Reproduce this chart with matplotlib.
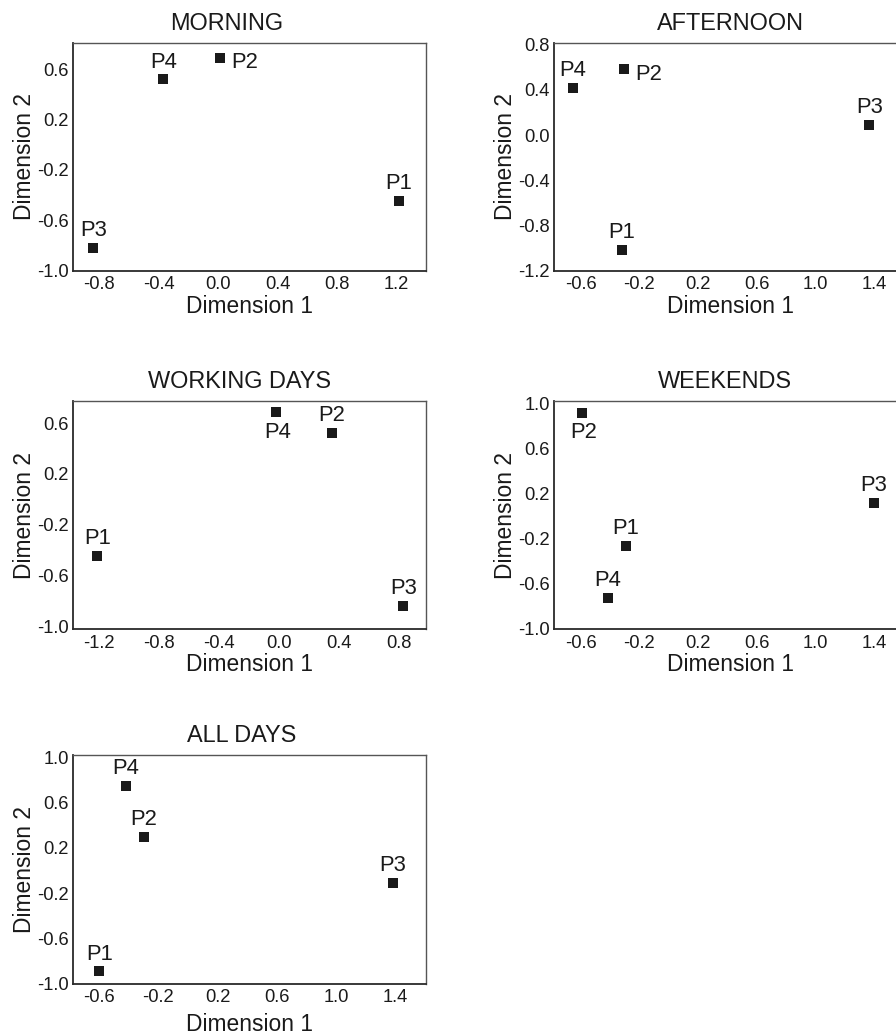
import matplotlib
matplotlib.use("Agg")
import matplotlib.pyplot as plt

plt.rcParams['font.family'] = ['Liberation Sans', 'DejaVu Sans']

# ---- data ----
titles = ["MORNING", "AFTERNOON", "WORKING DAYS", "WEEKENDS", "ALL DAYS"]
point_names = ["P1", "P2", "P3", "P4"]

morning_x = [1.216, 0.013, -0.838, -0.368]
morning_y = [-0.445, 0.69, -0.82, 0.518]

afternoon_x = [-0.321, -0.305, 1.363, -0.65]
afternoon_y = [-1.022, 0.584, 0.086, 0.415]

working_x = [-1.211, 0.353, 0.829, -0.02]
working_y = [-0.445, 0.521, -0.842, 0.689]

weekends_x = [-0.292, -0.589, 1.393, -0.412]
weekends_y = [-0.263, 0.917, 0.115, -0.728]

alldays_x = [-0.598, -0.297, 1.38, -0.42]
alldays_y = [-0.891, 0.297, -0.11, 0.749]

morning_xticks = [-0.8, -0.4, 0.0, 0.4, 0.8, 1.2]
morning_yticks = [-1.0, -0.6, -0.2, 0.2, 0.6]
afternoon_xticks = [-0.6, -0.2, 0.2, 0.6, 1.0, 1.4]
afternoon_yticks = [-1.2, -0.8, -0.4, 0.0, 0.4, 0.8]
working_xticks = [-1.2, -0.8, -0.4, 0.0, 0.4, 0.8]
working_yticks = [-1.0, -0.6, -0.2, 0.2, 0.6]
weekends_xticks = [-0.6, -0.2, 0.2, 0.6, 1.0, 1.4]
weekends_yticks = [-1.0, -0.6, -0.2, 0.2, 0.6, 1.0]
alldays_xticks = [-0.6, -0.2, 0.2, 0.6, 1.0, 1.4]
alldays_yticks = [-1.0, -0.6, -0.2, 0.2, 0.6, 1.0]

# ---- layout / style ----
W, H = 896, 1035
fig = plt.figure(figsize=(W / 100, H / 100), dpi=100)

def rect(left, top, right, bottom):
    return [left / W, 1 - bottom / H, (right - left) / W, (bottom - top) / H]

panels = [
    dict(title=titles[0], x=morning_x, y=morning_y, xt=morning_xticks, yt=morning_yticks,
         xlim=(-0.977, 1.395), ylim=(-1.0, 0.81), rect=rect(72.7, 42.7, 425.7, 270.7),
         tx=0.436, place=["above", "right", "above", "above"], xlp=1),
    dict(title=titles[1], x=afternoon_x, y=afternoon_y, xt=afternoon_xticks, yt=afternoon_yticks,
         xlim=(-0.78, 1.62), ylim=(-1.205, 0.82), rect=rect(554, 42.7, 907, 270.7),
         tx=0.501, place=["above", "right", "above", "above"], xlp=1),
    dict(title=titles[2], x=working_x, y=working_y, xt=working_xticks, yt=working_yticks,
         xlim=(-1.375, 0.978), ylim=(-1.026, 0.776), rect=rect(72.7, 401, 425.7, 629.3),
         tx=0.474, place=["above", "above", "above", "below"], xlp=1),
    dict(title=titles[3], x=weekends_x, y=weekends_y, xt=weekends_xticks, yt=weekends_yticks,
         xlim=(-0.78, 1.62), ylim=(-1.005, 1.02), rect=rect(554, 401, 907, 629.3),
         tx=0.484, place=["above", "below", "above", "above"], xlp=1),
    dict(title=titles[4], x=alldays_x, y=alldays_y, xt=alldays_xticks, yt=alldays_yticks,
         xlim=(-0.777, 1.602), ylim=(-1.0, 1.018), rect=rect(72.7, 755.3, 425.7, 983.7),
         tx=0.48, place=["above", "above", "above", "above"], xlp=5),
]

offsets = {"above": (0, 12.5), "below": (1, -14.5), "right": (17.8, -3.6)}
ink = "#1a1a1a"

for p in panels:
    ax = fig.add_axes(p["rect"])
    ax.plot(p["x"], p["y"], linestyle="none", marker="s", markersize=7.8,
            color=ink, markeredgewidth=0, clip_on=False)
    for name, xv, yv, pl in zip(point_names, p["x"], p["y"], p["place"]):
        ax.annotate(name, (xv, yv), xytext=offsets[pl], textcoords="offset points",
                    ha="center", va="center", fontsize=15.8, color=ink)
    ax.set_xlim(*p["xlim"])
    ax.set_ylim(*p["ylim"])
    ax.set_xticks(p["xt"])
    ax.set_yticks(p["yt"])
    ax.set_xticklabels([f"{v:.1f}" for v in p["xt"]])
    ax.set_yticklabels([f"{v:.1f}" for v in p["yt"]])
    ax.tick_params(length=0, labelsize=13.2, labelcolor=ink, pad=3)
    ax.tick_params(axis="x", pad=4)
    ax.set_xlabel("Dimension 1", fontsize=16.4, color=ink, labelpad=p["xlp"])
    ax.set_ylabel("Dimension 2", fontsize=16.4, color=ink, labelpad=1)
    ax.set_title(p["title"], fontsize=16.9, color=ink, pad=9.5, x=p["tx"])
    for s in ["left", "bottom"]:
        ax.spines[s].set_color("#2a2a2a")
        ax.spines[s].set_linewidth(1.3)
    for s in ["top", "right"]:
        ax.spines[s].set_color("#555555")
        ax.spines[s].set_linewidth(1.0)

fig.savefig("out.png", dpi=100)
